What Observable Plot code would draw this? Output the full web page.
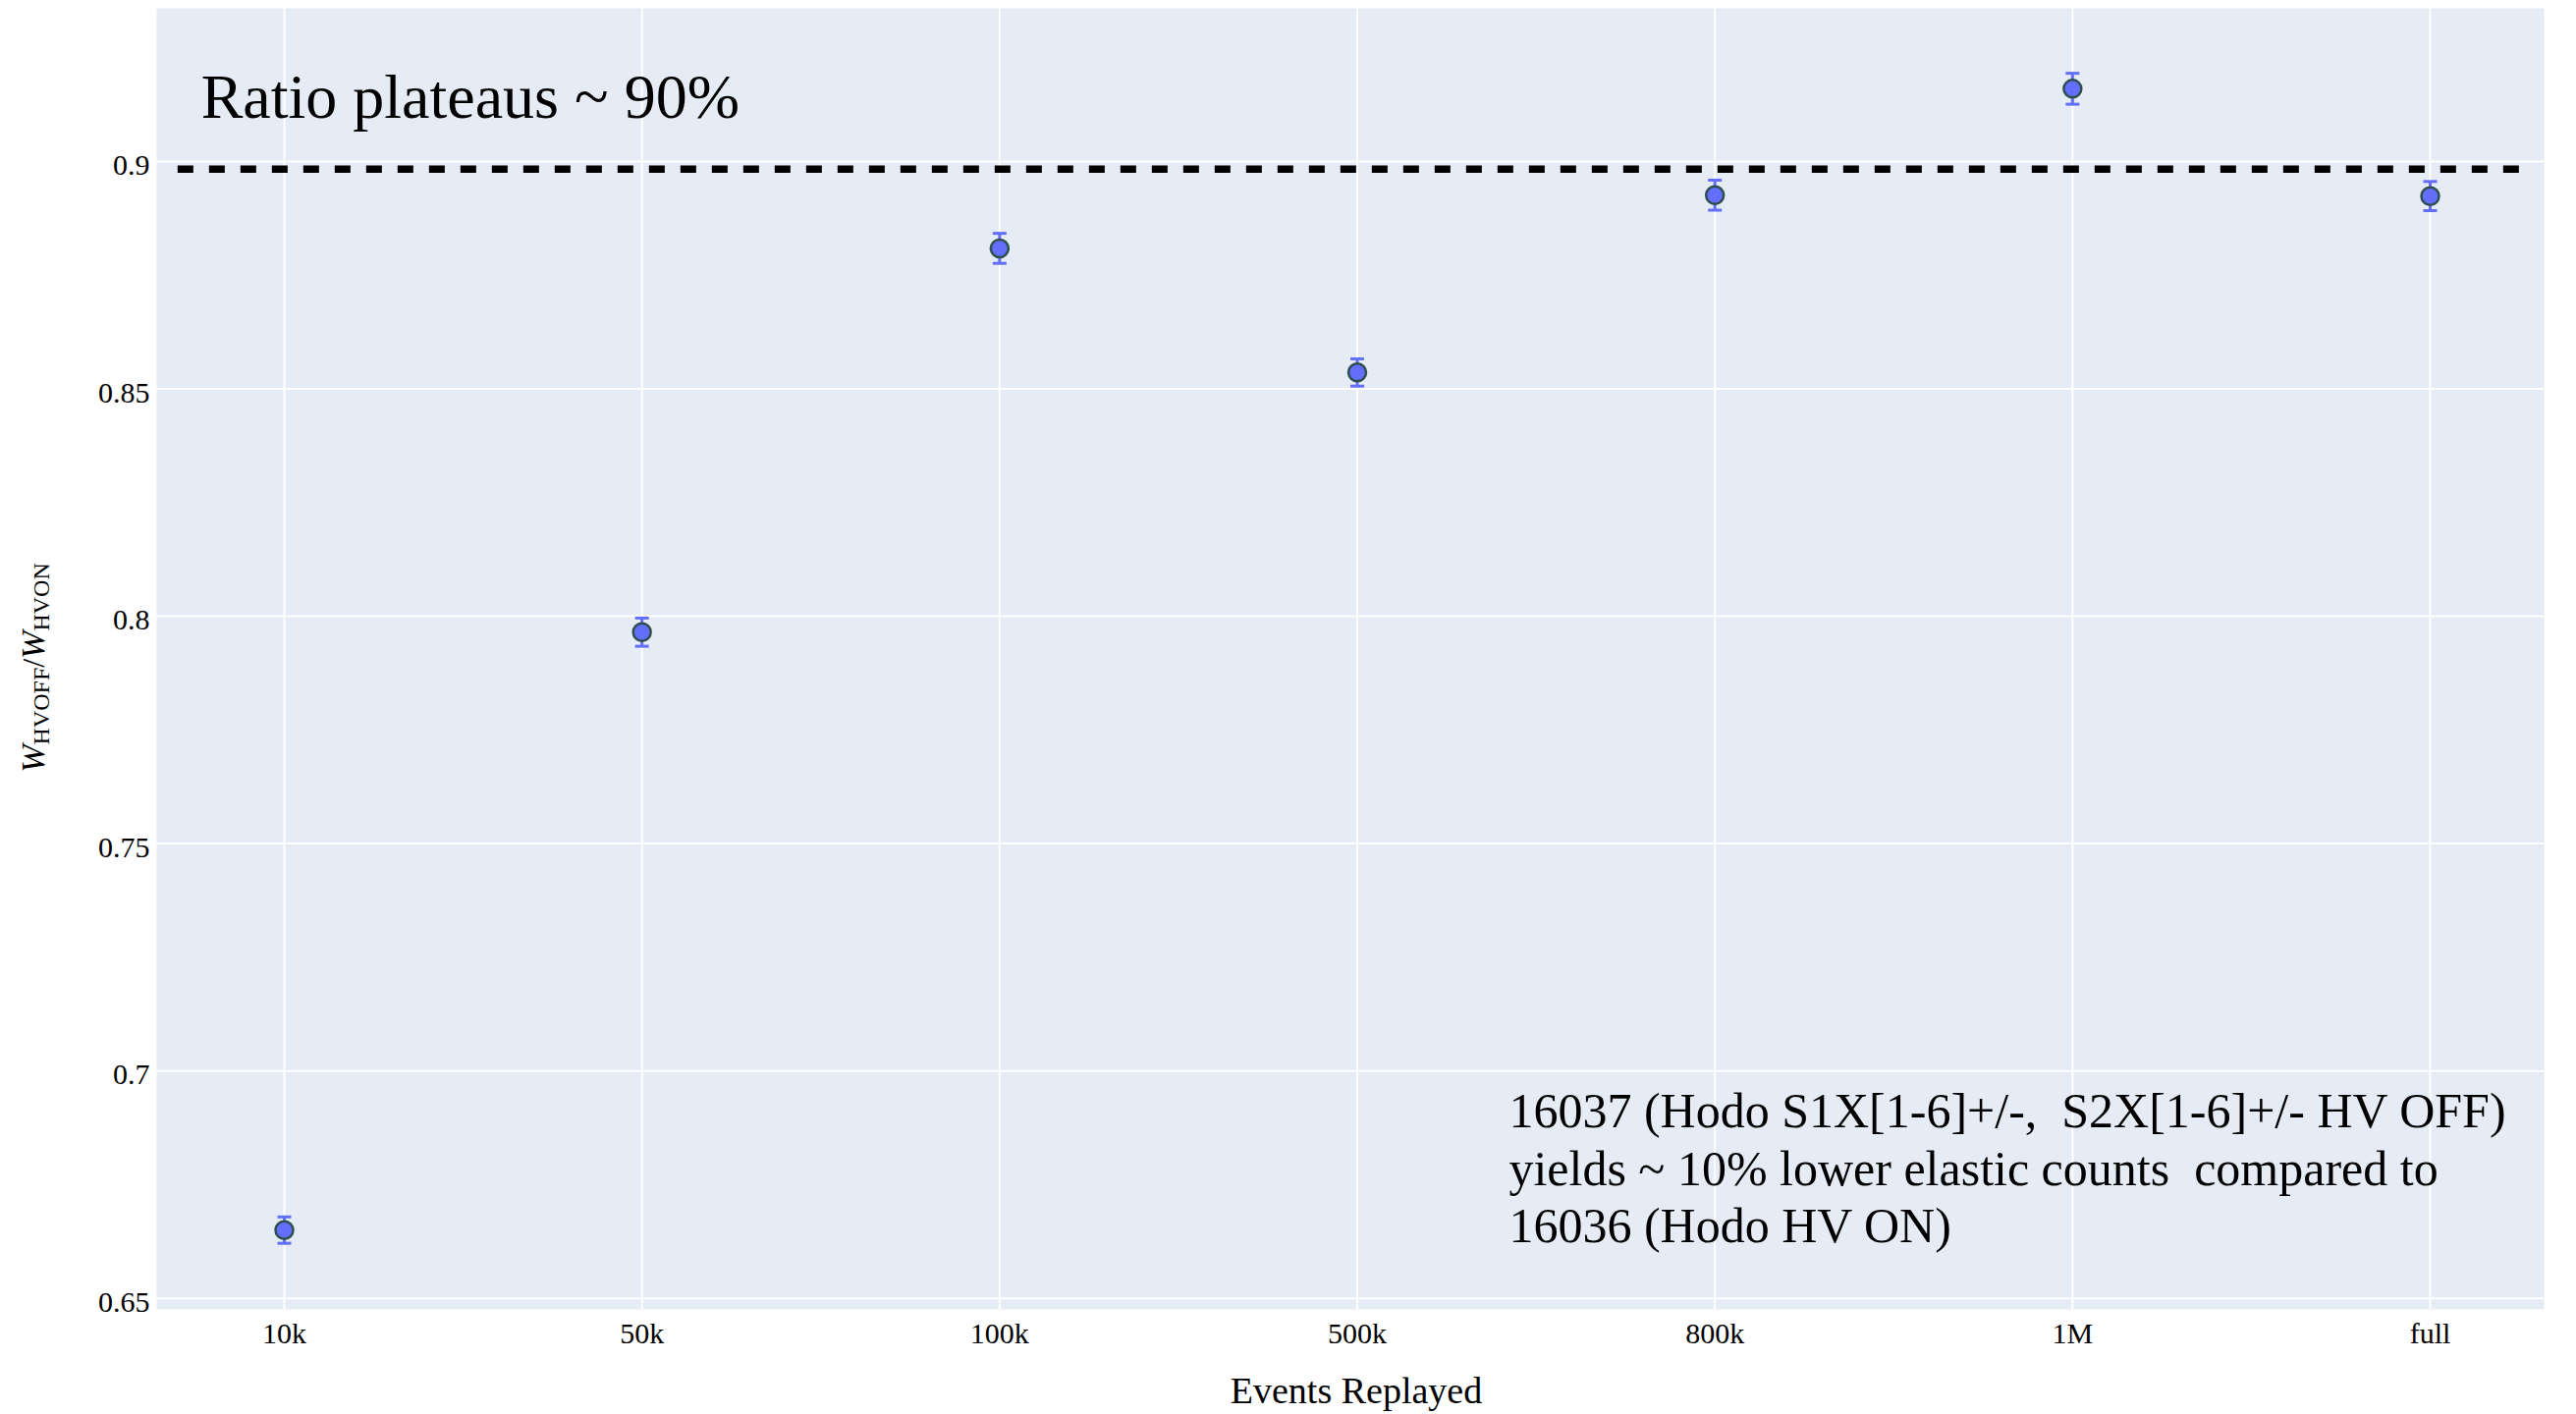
<!DOCTYPE html>
<html><head><meta charset="utf-8">
<script src="https://cdn.jsdelivr.net/npm/d3@7"></script>
<script src="https://cdn.jsdelivr.net/npm/@observablehq/plot@0.6"></script>
<style>
html,body{margin:0;padding:0;background:#fff;}
#chart svg text{white-space:pre;}
</style></head><body><div id="chart"></div>
<script>
// ---- data ----
const categories = ["10k", "50k", "100k", "500k", "800k", "1M", "full"];
const ratios = [0.6650, 0.7965, 0.8809, 0.8536, 0.8926, 0.9160, 0.8924];
const errors = [0.0029, 0.0031, 0.0033, 0.0030, 0.0033, 0.0034, 0.0032];
const yTicks = [0.65, 0.7, 0.75, 0.8, 0.85, 0.9];
const plateau = [{y: 0.8983, x1: -0.297, x2: 6.253}];
const xAxisTitle = "Events Replayed";
const headline = [{text: "Ratio plateaus ~ 90%", x: -0.233, y: 0.9097}];
const note = [{text: "16037 (Hodo S1X[1-6]+/-,  S2X[1-6]+/- HV OFF)\nyields ~ 10% lower elastic counts  compared to\n16036 (Hodo HV ON)", x: 3.424, y: 0.6623}];

const rows = categories.map((c, i) => ({i, c, v: ratios[i], lo: ratios[i] - errors[i], hi: ratios[i] + errors[i]}));
const idx = d3.range(categories.length);

const FONT = "'Liberation Serif', 'Times New Roman', serif";
const BLUE = "#636EFA";

const cap = {draw(ctx, size) { const w = Math.sqrt(size / Math.PI); ctx.moveTo(-w, 0); ctx.lineTo(w, 0); }};

const chart = Plot.plot({
  width: 2623, height: 1440,
  marginLeft: 159, marginRight: 33, marginTop: 8, marginBottom: 107,
  style: {fontFamily: FONT, background: "white", color: "black"},
  x: {type: "linear", domain: [-0.357, 6.3185]},
  y: {domain: [0.64756, 0.93368]},
  marks: [
    Plot.frame({fill: "#E5ECF6", stroke: null}),
    Plot.gridY(yTicks, {stroke: "white", strokeOpacity: 1, strokeWidth: 2}),
    Plot.gridX(idx, {stroke: "white", strokeOpacity: 1, strokeWidth: 2}),
    Plot.axisY(yTicks, {tickSize: 0, tickPadding: 7, fontSize: 30, dy: 4, label: null, tickFormat: d => String(d)}),
    Plot.axisX(idx, {tickSize: 0, tickPadding: 13, fontSize: 30, label: null, tickFormat: i => categories[i]}),
    Plot.ruleY(plateau, {y: "y", x1: "x1", x2: "x2", stroke: "black", strokeWidth: 7.5, strokeDasharray: "16,16"}),
    Plot.ruleX(rows, {x: "i", y1: "lo", y2: "hi", stroke: BLUE, strokeWidth: 3}),
    Plot.dot(rows, {x: "i", y: "lo", symbol: cap, r: 7, fill: "none", stroke: BLUE, strokeWidth: 3}),
    Plot.dot(rows, {x: "i", y: "hi", symbol: cap, r: 7, fill: "none", stroke: BLUE, strokeWidth: 3}),
    Plot.dot(rows, {x: "i", y: "v", r: 9, fill: BLUE, stroke: "#2F4F4F", strokeWidth: 2.5}),
    Plot.text(headline, {x: "x", y: "y", text: "text", textAnchor: "start", lineAnchor: "bottom", fontSize: 64, fill: "black"}),
    Plot.text(note, {x: "x", y: "y", text: "text", textAnchor: "start", lineAnchor: "bottom", fontSize: 50, lineHeight: 1.17, fill: "black"}),
    Plot.text([xAxisTitle], {frameAnchor: "bottom", dx: 6, dy: 95, lineAnchor: "bottom", fontSize: 38, fill: "black"})
  ]
});

document.getElementById("chart").appendChild(chart);

// y-axis title with subscripts
const svg = d3.select(chart);
const t = svg.append("text")
  .attr("transform", "translate(45,680) rotate(-90)")
  .attr("text-anchor", "middle")
  .attr("font-family", FONT)
  .attr("fill", "black");
t.append("tspan").attr("font-style", "italic").attr("font-size", 34).text("W");
t.append("tspan").attr("font-size", 24).attr("dy", 5).text("HVOFF");
t.append("tspan").attr("font-size", 32).attr("dy", -5).text("/");
t.append("tspan").attr("font-style", "italic").attr("font-size", 34).text("W");
t.append("tspan").attr("font-size", 24).attr("dy", 5).text("HVON");
</script>
</body></html>
